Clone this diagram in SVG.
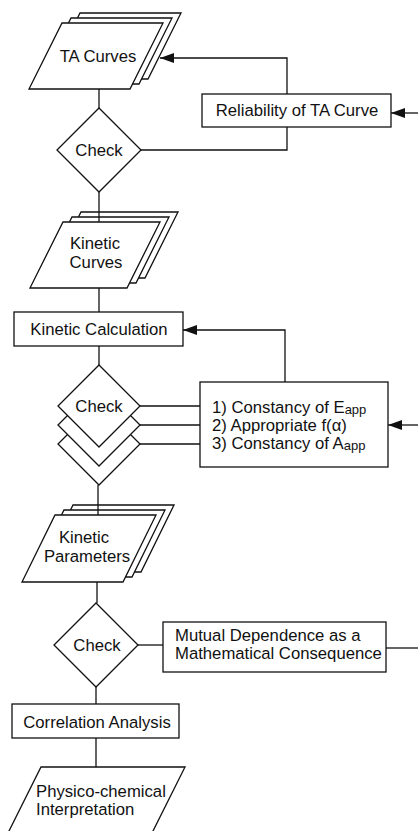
<svg xmlns="http://www.w3.org/2000/svg" width="418" height="831" viewBox="0 0 418 831">
<style>
.s{fill:#fff;stroke:#111;stroke-width:1.3;stroke-linejoin:miter}
.c{fill:none;stroke:#111;stroke-width:1.3}
.t{font-family:"Liberation Sans",Arial,sans-serif;font-size:16.7px;fill:#111}
.m{text-anchor:middle}
.sub{font-size:13px}
</style>
<defs>
<marker id="ah" markerWidth="15" markerHeight="10" refX="14" refY="5" orient="auto" markerUnits="userSpaceOnUse">
<path d="M0,0 L14,5 L0,10 Z" fill="#111"/>
</marker>
</defs>
<rect width="418" height="831" fill="#fff"/>

<g id="ta-curves">
<polygon class="s" points="80,13 181,13 148,79 47,79"/>
<polygon class="s" points="71,18 172,18 139,84 38,84"/>
<polygon class="s" points="62,23 163,23 130,89 29,89"/>
<text class="t m" x="98" y="62">TA Curves</text>
</g>

<g id="reliability">
<rect class="s" x="202" y="94" width="189" height="33"/>
<text class="t m" x="297" y="116">Reliability of TA Curve</text>
</g>

<g id="check1">
<polygon class="s" points="99,108 141,150 99,192 57,150"/>
<text class="t m" x="99" y="156">Check</text>
</g>

<g id="kinetic-curves">
<polygon class="s" points="81,212 178,212 145,278 48,278"/>
<polygon class="s" points="72,217 169,217 136,283 39,283"/>
<polygon class="s" points="63,222 160,222 127,288 30,288"/>
<text class="t m" x="95" y="249">Kinetic</text>
<text class="t m" x="96" y="268">Curves</text>
</g>

<g id="kinetic-calculation">
<rect class="s" x="14" y="312" width="169" height="34"/>
<text class="t m" x="99" y="335">Kinetic Calculation</text>
</g>

<g id="check2">
<polygon class="s" points="99,403 140,444 99,485 58,444"/>
<polygon class="s" points="99,384 140,425 99,466 58,425"/>
<polygon class="s" points="99,365 140,406 99,447 58,406"/>
<text class="t m" x="99" y="412">Check</text>
</g>

<g id="criteria">
<rect class="s" x="200" y="382" width="188" height="85"/>
<text class="t" x="212" y="413">1) Constancy of E<tspan class="sub" dy="1">app</tspan></text>
<text class="t" x="212" y="431">2) Appropriate f(α)</text>
<text class="t" x="212" y="449">3) Constancy of A<tspan class="sub" dy="1">app</tspan></text>
</g>

<g id="kinetic-parameters">
<polygon class="s" points="73,505 174,505 141,572 40,572"/>
<polygon class="s" points="64,510 165,510 132,577 31,577"/>
<polygon class="s" points="55,515 156,515 123,582 22,582"/>
<text class="t m" x="84" y="543">Kinetic</text>
<text class="t m" x="87" y="562">Parameters</text>
</g>

<g id="check3">
<polygon class="s" points="96,603 138,645 96,687 54,645"/>
<text class="t m" x="97" y="651">Check</text>
</g>

<g id="mutual">
<rect class="s" x="163" y="622" width="223" height="50"/>
<text class="t" x="175" y="641">Mutual Dependence as a</text>
<text class="t" x="175" y="659">Mathematical Consequence</text>
</g>

<g id="correlation">
<rect class="s" x="12" y="704" width="167" height="34"/>
<text class="t m" x="97" y="728">Correlation Analysis</text>
</g>

<g id="interpretation">
<polygon class="s" points="41,767 185,767 151,835 7,835"/>
<text class="t" x="36" y="797">Physico-chemical</text>
<text class="t" x="36" y="815">Interpretation</text>
</g>

<g id="connectors">
<path class="c" d="M99,89 V108"/>
<path class="c" d="M287,94 V58 H160" marker-end="url(#ah)"/>
<path class="c" d="M418,113 H391" marker-end="url(#ah)"/>
<path class="c" d="M287,127 V150 H141"/>
<path class="c" d="M99,192 V222"/>
<path class="c" d="M99,288 V312"/>
<path class="c" d="M99,346 V365"/>
<path class="c" d="M285,382 V330 H183" marker-end="url(#ah)"/>
<path class="c" d="M140,406 H200"/>
<path class="c" d="M140,425 H200"/>
<path class="c" d="M140,444 H200"/>
<path class="c" d="M418,425 H388" marker-end="url(#ah)"/>
<path class="c" d="M98,485 V515"/>
<path class="c" d="M97,582 V603"/>
<path class="c" d="M138,645 H163"/>
<path class="c" d="M386,648 H418"/>
<path class="c" d="M96,687 V704"/>
<path class="c" d="M96,738 V767"/>
</g>
</svg>
